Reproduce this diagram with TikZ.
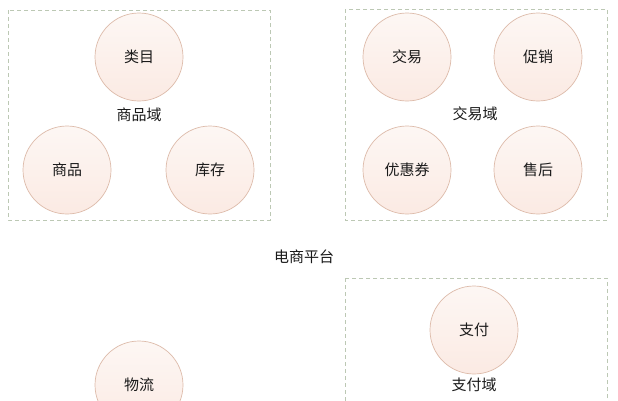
\documentclass[tikz,border=0pt]{standalone}
\usepackage{fontspec}
\newfontfamily\cjk{Noto Sans CJK SC}
\definecolor{circborder}{HTML}{DDBBAA}
\definecolor{circtop}{HTML}{FDF7F4}
\definecolor{circbot}{HTML}{FBEAE3}
\definecolor{boxborder}{HTML}{BCC8B4}
\definecolor{txt}{HTML}{1A1A1A}
\begin{document}
\begin{tikzpicture}[x=1pt,y=-1pt,
  ent/.style={circle,draw=circborder,line width=0.7pt,top color=circtop,bottom color=circbot,minimum size=88pt,inner sep=0pt,font=\cjk\fontsize{15}{17}\selectfont,text=txt},
  domainbox/.style={draw=boxborder,line width=0.8pt,dash pattern=on 4pt off 3pt},
  lbl/.style={font=\cjk\fontsize{15}{17}\selectfont,text=txt,inner sep=0pt}]
\useasboundingbox (0,0) rectangle (618,400);
\fill[white] (0,0) rectangle (618,400);
% boxes
\draw[domainbox] (8,10) rectangle (270,220);
\draw[domainbox] (345,9) rectangle (607,220);
\draw[domainbox] (345,278) rectangle (607,410);
% domain 1
\node[ent] (leimu) at (139,57) {类目};
\node[lbl] (spy) at (139,115) {商品域};
\node[ent] (shangpin) at (67,170) {商品};
\node[ent] (kucun) at (210,170) {库存};
% domain 2
\node[ent] (jiaoyi) at (407,57) {交易};
\node[ent] (cuxiao) at (538,57) {促销};
\node[lbl] (jyy) at (475,114) {交易域};
\node[ent] (youhui) at (407,170) {优惠券};
\node[ent] (shouhou) at (538,170) {售后};
% platform
\node[lbl] (pt) at (304,257) {电商平台};
% domain 3
\node[ent] (zhifu) at (474,330) {支付};
\node[lbl] (zfy) at (474,385) {支付域};
\node[ent] (wuliu) at (139,385) {物流};
\end{tikzpicture}
\end{document}
